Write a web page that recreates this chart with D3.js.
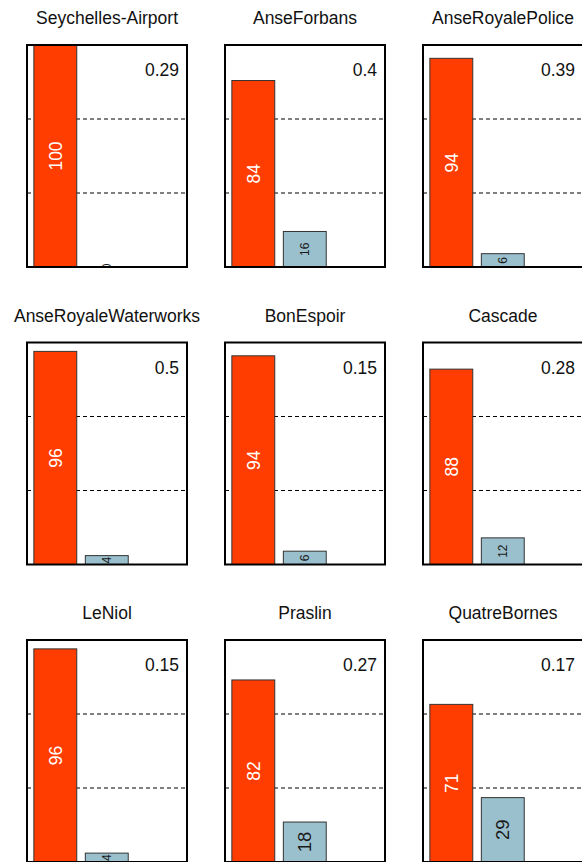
<!DOCTYPE html>
<html>
<head>
<meta charset="utf-8">
<script src="https://cdn.jsdelivr.net/npm/d3@7"></script>
<style>
    body { margin: 0; background: #fff; }
    svg { display: block; font-family: "Liberation Sans", Arial, sans-serif; }
</style>
</head>
<body>
<svg id="chart"></svg>
<script>
'use strict';
// data
var sites = ['Seychelles-Airport', 'AnseForbans', 'AnseRoyalePolice',
    'AnseRoyaleWaterworks', 'BonEspoir', 'Cascade',
    'LeNiol', 'Praslin', 'QuatreBornes'];
var redValues = [100, 84, 94, 96, 94, 88, 96, 82, 71];
var blueValues = [0, 16, 6, 4, 6, 12, 4, 18, 29];
var cornerLabels = ['0.29', '0.4', '0.39', '0.5', '0.15', '0.28', '0.15', '0.27', '0.17'];
var gridValues = [100 / 3, 200 / 3];

var params = {
    width: 582,
    height: 862,
    boxLeft: 27,
    boxTop: 45,
    colStep: 198,
    rowStep: 297.5,
    boxW: 160,
    boxH: 222,
    red: '#ff3d00',
    blue: '#9ac0cd'
};

var svg = d3.select('#chart')
    .attr('width', params.width)
    .attr('height', params.height)
;

// shared scales, each panel is its own translated group
var xScale = d3.scaleLinear().domain([0.04, 3.77]).range([0, params.boxW]);
var yScale = d3.scaleLinear().domain([0, 100]).range([params.boxH, 0]);

svg.append('defs').append('clipPath')
    .attr('id', 'plotClip')
    .append('rect')
    .attr('width', params.boxW)
    .attr('height', params.boxH)
;

sites.forEach(function(name, i) {
    var col = i % 3,
        row = Math.floor(i / 3);
    var g = svg.append('g')
        .attr('transform', 'translate(' + (params.boxLeft + col * params.colStep) + ',' + (params.boxTop + row * params.rowStep) + ')');

    g.append('text')
        .attr('x', params.boxW / 2)
        .attr('y', -21)
        .attr('text-anchor', 'middle')
        .style('font-size', '17.5px')
        .attr('fill', '#111')
        .text(name);

    var inner = g.append('g').attr('clip-path', 'url(#plotClip)');

    inner.selectAll('line.grid')
        .data(gridValues)
        .enter().append('line')
        .attr('class', 'grid')
        .attr('x1', 0)
        .attr('x2', params.boxW)
        .attr('y1', function(d) { return yScale(d); })
        .attr('y2', function(d) { return yScale(d); })
        .attr('stroke', '#000')
        .attr('stroke-width', 1)
        .attr('stroke-dasharray', '4,3')
    ;

    var bars = [
        {v: redValues[i], x0: 0.2, fill: params.red, txt: '#fff'},
        {v: blueValues[i], x0: 1.4, fill: params.blue, txt: '#1a1a1a'}
    ];

    inner.selectAll('rect.bar')
        .data(bars)
        .enter().append('rect')
        .attr('class', 'bar')
        .attr('x', function(d) { return xScale(d.x0); })
        .attr('width', function(d) { return xScale(d.x0 + 1) - xScale(d.x0); })
        .attr('y', function(d) { return yScale(d.v); })
        .attr('height', function(d) { return yScale(0) - yScale(d.v); })
        .attr('fill', function(d) { return d.fill; })
        .attr('stroke', '#333')
        .attr('stroke-width', 1)
    ;

    inner.selectAll('text.val')
        .data(bars)
        .enter().append('text')
        .attr('class', 'val')
        .attr('transform', function(d) {
            var cx = xScale(d.x0 + 0.5),
                cy = (yScale(d.v) + yScale(0)) / 2;
            return 'translate(' + cx + ',' + cy + ') rotate(-90)';
        })
        .attr('text-anchor', 'middle')
        .attr('dy', '0.36em')
        .style('font-size', function(d) {
            // small bars get a smaller label
            var h = yScale(0) - yScale(d.v);
            return (d.fill === params.red ? 17.5 : (h >= 38 ? 18.5 : 12)) + 'px';
        })
        .attr('fill', function(d) { return d.txt; })
        .text(function(d) { return d.v; })
    ;

    g.append('text')
        .attr('x', params.boxW - 8)
        .attr('y', 31)
        .attr('text-anchor', 'end')
        .style('font-size', '17.5px')
        .attr('fill', '#111')
        .text(cornerLabels[i]);

    g.append('rect')
        .attr('width', params.boxW)
        .attr('height', params.boxH)
        .attr('fill', 'none')
        .attr('stroke', '#000')
        .attr('stroke-width', 2)
    ;
});
</script>
</body>
</html>
